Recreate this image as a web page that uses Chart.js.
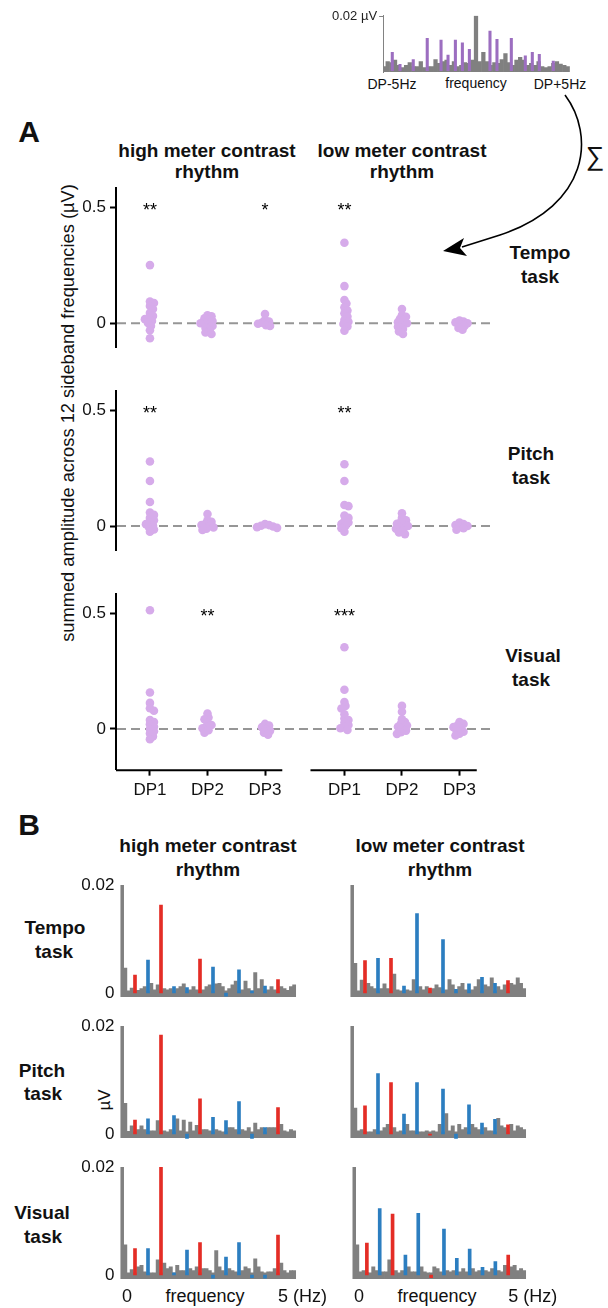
<!DOCTYPE html>
<html><head><meta charset="utf-8">
<script src="https://cdn.jsdelivr.net/npm/chart.js@4"></script>
<style>
html,body{margin:0;padding:0;background:#fff}
body{width:608px;height:1308px;position:relative;overflow:hidden;font-family:"Liberation Sans",Arial,Helvetica,sans-serif;color:#111}
canvas{position:absolute}
.t{position:absolute;white-space:nowrap;transform:translate(-50%,-50%);line-height:1}
.b{font-weight:bold}
.h{font-size:19px;font-weight:bold}
.rot{transform:translate(-50%,-50%) rotate(-90deg)}
svg{position:absolute;left:0;top:0}
</style></head><body>

<div class="t" style="left:392px;top:84px;font-size:14px">DP-5Hz</div>
<div class="t" style="left:476px;top:83px;font-size:14px">frequency</div>
<div class="t" style="left:560px;top:84px;font-size:14px">DP+5Hz</div>
<div class="t" style="left:595px;top:156px;font-size:26px">∑</div>

<div class="t b" style="left:29px;top:132px;font-size:30px">A</div>
<div class="t h" style="left:207px;top:150px">high meter contrast</div>
<div class="t h" style="left:207px;top:171px">rhythm</div>
<div class="t h" style="left:402px;top:150px">low meter contrast</div>
<div class="t h" style="left:402px;top:171px">rhythm</div>
<div class="t rot" style="left:68px;top:413px;font-size:18.3px">summed amplitude across 12 sideband frequencies (µV)</div>
<div class="t h" style="left:540px;top:252px">Tempo</div>
<div class="t h" style="left:540px;top:276px">task</div>
<div class="t h" style="left:531px;top:453px">Pitch</div>
<div class="t h" style="left:531px;top:477px">task</div>
<div class="t h" style="left:533px;top:655px">Visual</div>
<div class="t h" style="left:531px;top:679px">task</div>

<div class="t b" style="left:29px;top:825px;font-size:30px">B</div>
<div class="t h" style="left:208px;top:845px">high meter contrast</div>
<div class="t h" style="left:208px;top:869px">rhythm</div>
<div class="t h" style="left:440px;top:845px">low meter contrast</div>
<div class="t h" style="left:440px;top:869px">rhythm</div>
<div class="t h" style="left:55px;top:927px">Tempo</div>
<div class="t h" style="left:54px;top:951px">task</div>
<div class="t h" style="left:42px;top:1070px">Pitch</div>
<div class="t h" style="left:43px;top:1093px">task</div>
<div class="t h" style="left:42px;top:1212px">Visual</div>
<div class="t h" style="left:43px;top:1236px">task</div>
<div class="t rot" style="left:104px;top:1100px;font-size:17px">µV</div>
<div class="t" style="left:205px;top:1296px;font-size:18px">frequency</div>
<div class="t" style="left:437px;top:1296px;font-size:18px">frequency</div>

<svg width="608" height="1308">
  <path d="M565,95 C595,135 590,205 500,235 L462,247" fill="none" stroke="#000" stroke-width="1.6"/>
  <path d="M443,251 L464,238 L460,248 L467,256 Z" fill="#000"/>
</svg>

<script>
// ---------------- DATA ----------------
const dpLabels = ['DP1', 'DP2', 'DP3'];

// Panel A: summed sideband amplitude (µV) per participant
const tempoHighDP1 = [0.252, 0.094, 0.088, 0.075, 0.062, 0.045, 0.032, 0.024, 0.018, 0.01, 0.002, -0.012, -0.03, -0.065];
const tempoHighDP2 = [0.035, 0.03, 0.022, 0.015, 0.01, 0.004, 0.0, -0.006, -0.012, -0.02, -0.03, -0.04, -0.046];
const tempoHighDP3 = [0.04, 0.015, 0.008, 0.003, -0.002, -0.008, -0.012];
const tempoLowDP1 = [0.349, 0.161, 0.101, 0.086, 0.069, 0.055, 0.043, 0.029, 0.014, 0.007, -0.003, -0.014, -0.032];
const tempoLowDP2 = [0.062, 0.036, 0.028, 0.02, 0.012, 0.005, 0.0, -0.008, -0.015, -0.025, -0.035, -0.046];
const tempoLowDP3 = [0.012, 0.008, 0.004, 0.0, -0.005, -0.012, -0.02, -0.028];

const pitchHighDP1 = [0.279, 0.195, 0.104, 0.058, 0.048, 0.035, 0.025, 0.015, 0.008, 0.002, -0.005, -0.015, -0.025];
const pitchHighDP2 = [0.052, 0.025, 0.018, 0.01, 0.004, 0.0, -0.006, -0.012, -0.017];
const pitchHighDP3 = [0.008, 0.004, 0.001, -0.002, -0.005, -0.008];
const pitchLowDP1 = [0.267, 0.195, 0.091, 0.086, 0.045, 0.035, 0.022, 0.015, 0.008, 0.0, -0.01, -0.025];
const pitchLowDP2 = [0.055, 0.035, 0.025, 0.018, 0.01, 0.004, 0.0, -0.006, -0.012, -0.02, -0.028, -0.035];
const pitchLowDP3 = [0.015, 0.008, 0.004, 0.0, -0.004, -0.01, -0.016];

const visualHighDP1 = [0.514, 0.158, 0.113, 0.09, 0.079, 0.039, 0.03, 0.021, 0.01, 0.0, -0.01, -0.019, -0.032, -0.044];
const visualHighDP2 = [0.067, 0.05, 0.042, 0.027, 0.017, 0.01, 0.003, -0.005, -0.016];
const visualHighDP3 = [0.022, 0.015, 0.008, 0.0, -0.008, -0.016, -0.025];
const visualLowDP1 = [0.354, 0.17, 0.117, 0.1, 0.089, 0.064, 0.045, 0.039, 0.027, 0.017, 0.008, 0.003, -0.004];
const visualLowDP2 = [0.1, 0.075, 0.042, 0.03, 0.024, 0.015, 0.01, 0.003, -0.007, -0.014, -0.021];
const visualLowDP3 = [0.03, 0.022, 0.015, 0.008, 0.002, -0.005, -0.012, -0.02, -0.028];

const tempoStars = ['**', '', '*', '**', '', ''];
const pitchStars = ['**', '', '', '**', '', ''];
const visualStars = ['', '**', '', '***', '', ''];

// Inset: spectrum around a distortion product (DP)
const insetGray = [0.0015, 0.0033, 0.003, 0.0039, 0.002, 0.0011, 0.002, 0.003, 0.0015, 0.0015,
  0.0033, 0.0011, 0.0015, 0.0015, 0.0041, 0.0027, 0.0033, 0.0039, 0.002, 0.0033,
  0.0015, 0.002, 0.003, 0.0027, 0.0039, 0.02, 0.0033, 0.0067, 0.0033, 0.002,
  0.003, 0.0027, 0.0041, 0.0063, 0.003, 0.002, 0.0039, 0.0049, 0.0039, 0.002,
  0.0027, 0.002, 0.0033, 0.0015, 0.0011, 0.0015, 0.0027, 0.0033, 0.0024, 0.002, 0.0015];
const insetSidebandHz = [-4.55, -4.13, -3.41, -2.65, -1.90, -1.52, -1.12, -0.74, -0.36, 0.76, 1.14, 1.92, 2.68, 3.06, 3.44, 4.20];
const insetSideband = [0.0067, 0.0023, 0.0041, 0.0118, 0.0112, 0.0057, 0.0112, 0.0102, 0.0078, 0.0145, 0.0115, 0.0118, 0.0054, 0.0067, 0.006, 0.0035];

// Panel B: spectra (µV), gray bins at quarter-harmonic steps
const redHarmonics = [1, 3, 6, 12];
const blueHarmonics = [2, 4, 5, 7, 8, 9, 10, 11];

const tempoHighGray = [0.02, 0.0046, 0.0004, 0.0009, 0.0004, 0.0005, 0.0008, 0.0012, 0.0004, 0.0018,
  0.0006, 0.0015, 0.0004, 0.0008, 0.0006, 0.0008, 0.0004, 0.0008, 0.0012, 0.0017,
  0.0004, 0.0006, 0.0012, 0.0006, 0.0004, 0.0006, 0.0012, 0.0015, 0.0004, 0.0017,
  0.0018, 0.0012, 0.0004, 0.0008, 0.0015, 0.0022, 0.0004, 0.0006, 0.0022, 0.0008,
  0.0004, 0.0038, 0.0008, 0.0025, 0.0004, 0.0006, 0.0012, 0.0006, 0.0004, 0.0012,
  0.0008, 0.0005, 0.0012, 0.0015];
const tempoHighRed = [0.0033, 0.0163, 0.0063, 0.0025];
const tempoHighBlue = [0.0061, 0.0012, 0.001, 0.0048, -0.0006, 0.0043, 0.0004, 0.0013];

const tempoLowGray = [0.02, 0.0055, 0.0004, 0.0024, 0.0004, 0.0018, 0.0012, 0.0008, 0.0004, 0.0008,
  0.0017, 0.0008, 0.0004, 0.0035, 0.0006, 0.0004, 0.0004, 0.0006, 0.0004, 0.0025,
  0.0004, 0.0012, 0.0006, 0.0012, 0.0004, 0.0008, 0.0015, 0.001, 0.0004, 0.0006,
  0.0025, 0.0015, 0.0004, 0.0012, 0.0018, 0.0006, 0.0004, 0.0006, 0.0012, 0.0025,
  0.0004, 0.0015, 0.0012, 0.0028, 0.0004, 0.0012, 0.0006, 0.0015, 0.0004, 0.0018,
  0.0015, 0.0028, 0.0018, 0.0008];
const tempoLowRed = [0.006, 0.0064, 0.0009, 0.0023];
const tempoLowBlue = [0.0064, 0.0013, 0.0147, 0.0099, 0.0007, 0.0017, 0.0029, 0.0018];

const pitchHighGray = [0.02, 0.0057, 0.0005, 0.0015, 0.0004, 0.0008, 0.0015, 0.0008, 0.0004, 0.0006,
  0.0006, 0.0025, 0.0004, 0.0006, 0.0004, 0.0008, 0.0004, 0.0028, 0.0006, 0.0026,
  0.0004, 0.0022, 0.0006, 0.0016, 0.0004, 0.0008, 0.0008, 0.0006, 0.0004, 0.0008,
  0.0006, 0.0004, 0.0004, 0.0012, 0.0012, 0.0008, 0.0004, 0.0008, 0.0006, 0.0012,
  0.0004, 0.002, 0.0008, 0.0012, 0.0004, 0.0012, 0.0012, 0.0012, 0.0004, 0.0018,
  0.0006, 0.0004, 0.0008, 0.0006];
const pitchHighRed = [0.0026, 0.0183, 0.0065, 0.0049];
const pitchHighBlue = [0.0028, 0.0034, -0.0008, 0.0031, 0.0025, 0.006, -0.0008, 0.0012];

const pitchLowGray = [0.02, 0.0048, 0.0006, 0.0008, 0.0004, 0.0004, 0.0004, 0.0008, 0.0004, 0.0006,
  0.0012, 0.0018, 0.0004, 0.0012, 0.0004, 0.0006, 0.0004, 0.0018, 0.0006, 0.0006,
  0.0004, 0.0004, 0.0004, 0.0006, 0.0004, 0.0006, 0.0004, 0.0018, 0.0004, 0.0038,
  0.0006, 0.0015, 0.0004, 0.0018, 0.0008, 0.0012, 0.0004, 0.0018, 0.0012, 0.0008,
  0.0004, 0.0012, 0.0006, 0.0006, 0.0004, 0.0029, 0.0015, 0.0012, 0.0004, 0.0018,
  0.0006, 0.0015, 0.0012, 0.0008];
const pitchLowRed = [0.0052, 0.0095, -0.0002, 0.0017];
const pitchLowBlue = [0.0112, 0.0037, 0.0095, 0.0083, -0.0008, 0.0054, 0.002, 0.0027];

const visualHighGray = [0.02, 0.0056, 0.0004, 0.001, 0.0004, 0.0015, 0.0018, 0.0006, 0.0004, 0.0004,
  0.0004, 0.0028, 0.0004, 0.0022, 0.0012, 0.0015, 0.0004, 0.0018, 0.0008, 0.0008,
  0.0004, 0.0012, 0.0008, 0.0015, 0.0004, 0.0012, 0.0012, 0.0008, 0.0004, 0.0045,
  0.0015, 0.0008, 0.0004, 0.0012, 0.0008, 0.0006, 0.0004, 0.0008, 0.0015, 0.0012,
  0.0004, 0.003, 0.0015, 0.0006, 0.0004, 0.0006, 0.0006, 0.0012, 0.0004, 0.0022,
  0.0008, 0.0004, 0.0008, 0.0008];
const visualHighRed = [0.0049, 0.02, 0.006, 0.0074];
const visualHighBlue = [0.0049, 0.0004, 0.0046, -0.0006, 0.0033, 0.006, -0.0005, -0.0006];

const visualLowGray = [0.02, 0.0056, 0.0006, 0.0008, 0.0004, 0.0004, 0.0015, 0.0008, 0.0004, 0.0006,
  0.0006, 0.0028, 0.0004, 0.0008, 0.0004, 0.0008, 0.0004, 0.0015, 0.0006, 0.0006,
  0.0004, 0.0015, 0.0006, 0.0004, 0.0004, 0.0015, 0.0012, 0.0006, 0.0004, 0.0008,
  0.0006, 0.0008, 0.0004, 0.0006, 0.0012, 0.0006, 0.0004, 0.0012, 0.0006, 0.0008,
  0.0004, 0.0008, 0.0006, 0.0012, 0.0004, 0.0008, 0.0006, 0.0018, 0.0004, 0.0015,
  0.0018, 0.0008, 0.0012, 0.0008];
const visualLowRed = [0.0059, 0.0113, -0.0005, 0.0037];
const visualLowBlue = [0.0123, 0.0037, 0.0114, 0.0085, 0.0031, 0.0048, 0.0014, 0.0025];

// ---------------- STYLE / LAYOUT ----------------
const FONT = '"Liberation Sans", Arial, Helvetica, sans-serif';
Chart.defaults.font.family = FONT;
Chart.defaults.color = '#111';
const DOT = 'rgb(214,171,234)';
const GRAY = 'rgb(128,128,128)';
const RED = 'rgb(228,45,38)';
const BLUE = 'rgb(44,126,192)';
const INSET_PURPLE = 'rgb(156,110,192)';

const F0 = 5 / 12;           // stimulus cycle frequency (Hz)
const BIN_HZ = F0 / 4;       // spectral bin spacing of gray spectra
const INSET_BIN_HZ = 0.2;
const GROUP_X = [1, 2, 3, 4.38, 5.38, 6.38];
const XMIN = 0.41, XMAX = 6.91;
const PX_Y = 231, PX_X = 57.5;
const PAD_T = 26, PAD_B = 26, PAD_R = 64;

function mount(area, yW, xH) {
  const c = document.createElement('canvas');
  const left = Math.floor(area.l - yW) - 2;
  const top = Math.floor(area.t) - PAD_T;
  const right = Math.ceil(area.r) + PAD_R;
  const bottom = Math.ceil(area.b + xH) + PAD_B;
  c.width = right - left; c.height = bottom - top;
  c.style.left = left + 'px'; c.style.top = top + 'px';
  c.style.width = c.width + 'px'; c.style.height = c.height + 'px';
  document.body.appendChild(c);
  const padding = {
    left: area.l - yW - left,
    top: area.t - top,
    right: right - area.r,
    bottom: bottom - area.b - xH
  };
  return {ctx: c.getContext('2d'), padding};
}

function swarm(values, minDist) {
  const placed = [];
  const offs = new Array(values.length).fill(0);
  const order = values.map((v, i) => i).sort((a, b) => values[b] - values[a]);
  for (const i of order) {
    const y = values[i] * PX_Y;
    let best = 0;
    for (let k = 0; k < 60; k++) {
      const cand = k === 0 ? 0 : (k % 2 ? Math.ceil(k / 2) : -Math.ceil(k / 2));
      if (placed.every(p => Math.hypot(p.x - cand, p.y - y) >= minDist)) { best = cand; break; }
    }
    placed.push({x: best, y});
    offs[i] = best / PX_X;
  }
  return offs;
}

const zeroLine = {
  id: 'zeroLine',
  beforeDatasetsDraw(chart) {
    const {ctx, chartArea: a, scales: {y}} = chart;
    const py = y.getPixelForValue(0);
    ctx.save();
    ctx.strokeStyle = 'rgb(150,150,150)';
    ctx.lineWidth = 2;
    ctx.setLineDash([9, 5]);
    ctx.beginPath(); ctx.moveTo(a.left + 1, py); ctx.lineTo(a.right, py); ctx.stroke();
    ctx.restore();
  }
};
const sigStars = {
  id: 'sig',
  afterDatasetsDraw(chart, args, opts) {
    const {ctx, scales: {x, y}} = chart;
    ctx.save();
    ctx.fillStyle = '#000';
    ctx.font = '18px ' + FONT;
    ctx.textAlign = 'center';
    ctx.textBaseline = 'alphabetic';
    (opts.labels || []).forEach((s, g) => {
      if (s) ctx.fillText(s, x.getPixelForValue(GROUP_X[g]), y.getPixelForValue(0.5) + 8);
    });
    ctx.restore();
  }
};
const axisSegments = {
  id: 'axisSeg',
  afterDraw(chart, args, opts) {
    if (!opts.segments) return;
    const {ctx, chartArea: a, scales: {x}} = chart;
    ctx.save();
    ctx.strokeStyle = '#000'; ctx.lineWidth = 2;
    opts.segments.forEach(([s, e]) => {
      ctx.beginPath(); ctx.moveTo(x.getPixelForValue(s), a.bottom + 0.5); ctx.lineTo(x.getPixelForValue(e), a.bottom + 0.5); ctx.stroke();
    });
    ctx.restore();
  }
};

function rowChart(zeroPx, yMin, groups, stars, showX) {
  const area = {l: 116, r: 490, t: zeroPx - 0.585 * PX_Y, b: zeroPx - yMin * PX_Y};
  const xH = showX ? 32 : 0;
  const {ctx, padding} = mount(area, 60, xH);
  const pts = [];
  groups.forEach((vals, g) => {
    const offs = swarm(vals, 4);
    vals.forEach((v, i) => pts.push({x: GROUP_X[g] + offs[i], y: v}));
  });
  new Chart(ctx, {
    type: 'scatter',
    data: {datasets: [{data: pts, backgroundColor: DOT, borderWidth: 0, pointRadius: 4.3, pointHoverRadius: 4.3}]},
    options: {
      responsive: false, animation: false, devicePixelRatio: 1,
      layout: {padding, autoPadding: false},
      plugins: {legend: {display: false}, tooltip: {enabled: false},
        sig: {labels: stars}, axisSeg: {segments: showX ? [[XMIN, 3.3], [3.79, 6.68]] : null}},
      scales: {
        x: {type: 'linear', min: XMIN, max: XMAX, display: showX,
          afterFit: s => { s.height = xH; },
          afterBuildTicks: s => { s.ticks = GROUP_X.map(v => ({value: v})); },
          grid: {display: true, drawOnChartArea: false, drawTicks: true, tickLength: 6, tickWidth: 2, tickColor: '#000'},
          border: {display: false},
          ticks: {callback: (v, i) => dpLabels[i % 3], autoSkip: false, maxRotation: 0, padding: 4, color: '#111', font: {size: 17}}},
        y: {type: 'linear', min: yMin, max: 0.585,
          afterFit: s => { s.width = 60; },
          afterBuildTicks: s => { s.ticks = [{value: 0}, {value: 0.5}]; },
          grid: {display: true, drawOnChartArea: false, drawTicks: true, tickLength: 6, tickWidth: 2, tickColor: '#000'},
          border: {display: true, color: '#000', width: 2},
          ticks: {callback: v => (v === 0 ? '0' : '0.5'), padding: 4, color: '#111', font: {size: 17}}}
      }
    },
    plugins: [zeroLine, sigStars, axisSegments]
  });
}

rowChart(323.3, -0.104, [tempoHighDP1, tempoHighDP2, tempoHighDP3, tempoLowDP1, tempoLowDP2, tempoLowDP3], tempoStars, false);
rowChart(526, -0.104, [pitchHighDP1, pitchHighDP2, pitchHighDP3, pitchLowDP1, pitchLowDP2, pitchLowDP3], pitchStars, false);
rowChart(729, -0.176, [visualHighDP1, visualHighDP2, visualHighDP3, visualLowDP1, visualLowDP2, visualLowDP3], visualStars, true);

// ---- Panel B spectra ----
const SPEC_FLOOR = -0.0007;
const PX_HZ = 31.2;
function specChart(zeroHz, zeroPx, gray, red, blue, showY, showX) {
  const area = {l: zeroHz - 0.05 * PX_HZ, r: zeroHz + 5.58 * PX_HZ, t: zeroPx - 108, b: zeroPx + 5.4};
  const yW = showY ? 70 : 0, xH = showX ? 26 : 0;
  const {ctx, padding} = mount(area, yW, xH);
  new Chart(ctx, {
    type: 'bar',
    data: {datasets: [
      {data: red.map((v, i) => ({x: redHarmonics[i] * F0, y: [0, v]})), backgroundColor: RED, barThickness: 3, grouped: false, order: 0},
      {data: blue.map((v, i) => ({x: blueHarmonics[i] * F0, y: [0, v]})), backgroundColor: BLUE, barThickness: 3, grouped: false, order: 1},
      {data: gray.map((v, k) => ({x: k * BIN_HZ, y: [SPEC_FLOOR, v]})), backgroundColor: GRAY, barThickness: 3.3, grouped: false, order: 2}
    ]},
    options: {
      responsive: false, animation: false, devicePixelRatio: 1,
      layout: {padding, autoPadding: false},
      plugins: {legend: {display: false}, tooltip: {enabled: false}},
      scales: {
        x: {type: 'linear', min: -0.05, max: 5.58, offset: false, display: showX,
          afterFit: s => { s.height = xH; },
          afterBuildTicks: s => { s.ticks = [{value: 0}, {value: 5}]; },
          grid: {display: false, drawTicks: false}, border: {display: false},
          ticks: {align: 'start', callback: v => (v === 5 ? '5 (Hz)' : '0'), padding: 6, maxRotation: 0, autoSkip: false, color: '#111', font: {size: 18}}},
        y: {type: 'linear', min: -0.001, max: 0.02, display: showY,
          afterFit: s => { s.width = yW; },
          afterBuildTicks: s => { s.ticks = [{value: 0}, {value: 0.02}]; },
          grid: {display: false, drawTicks: false}, border: {display: false},
          ticks: {callback: v => (v === 0 ? '0' : '0.02'), padding: 6, color: '#111', font: {size: 17}}}
      }
    }
  });
}
specChart(122, 993, tempoHighGray, tempoHighRed, tempoHighBlue, true, false);
specChart(352, 993, tempoLowGray, tempoLowRed, tempoLowBlue, false, false);
specChart(122, 1134, pitchHighGray, pitchHighRed, pitchHighBlue, true, false);
specChart(352, 1134, pitchLowGray, pitchLowRed, pitchLowBlue, false, false);
specChart(122, 1275, visualHighGray, visualHighRed, visualHighBlue, true, true);
specChart(352, 1275, visualLowGray, visualLowRed, visualLowBlue, false, true);

// ---- Inset ----
(function () {
  const PXH = 18.4, Z = 70.7, PXU = 2735;
  const area = {l: 476 - 5.05 * PXH, r: 476 + 5.1 * PXH, t: Z - 0.0202 * PXU, b: Z + 0.0006 * PXU};
  const {ctx, padding} = mount(area, 70, 0);
  new Chart(ctx, {
    type: 'bar',
    data: {datasets: [
      {data: insetSideband.map((v, i) => ({x: insetSidebandHz[i], y: [0, v]})), backgroundColor: INSET_PURPLE, barThickness: 2.4, grouped: false, order: 0},
      {data: insetGray.map((v, k) => ({x: -5 + k * INSET_BIN_HZ, y: [-0.0004, v]})), backgroundColor: GRAY, barThickness: 3.6, grouped: false, order: 1}
    ]},
    options: {
      responsive: false, animation: false, devicePixelRatio: 1,
      layout: {padding, autoPadding: false},
      plugins: {legend: {display: false}, tooltip: {enabled: false}},
      scales: {
        x: {type: 'linear', min: -5.05, max: 5.1, offset: false, display: false},
        y: {type: 'linear', min: -0.0006, max: 0.0202,
          afterFit: s => { s.width = 70; },
          afterBuildTicks: s => { s.ticks = [{value: 0.02}]; },
          grid: {display: true, drawOnChartArea: false, drawTicks: true, tickLength: 4, tickColor: 'rgb(130,130,130)', tickWidth: 1},
          border: {display: true, color: 'rgb(130,130,130)', width: 1},
          ticks: {callback: () => '0.02 µV', padding: 2, color: '#222', font: {size: 13}}}
      }
    }
  });
})();
</script>
</body></html>
